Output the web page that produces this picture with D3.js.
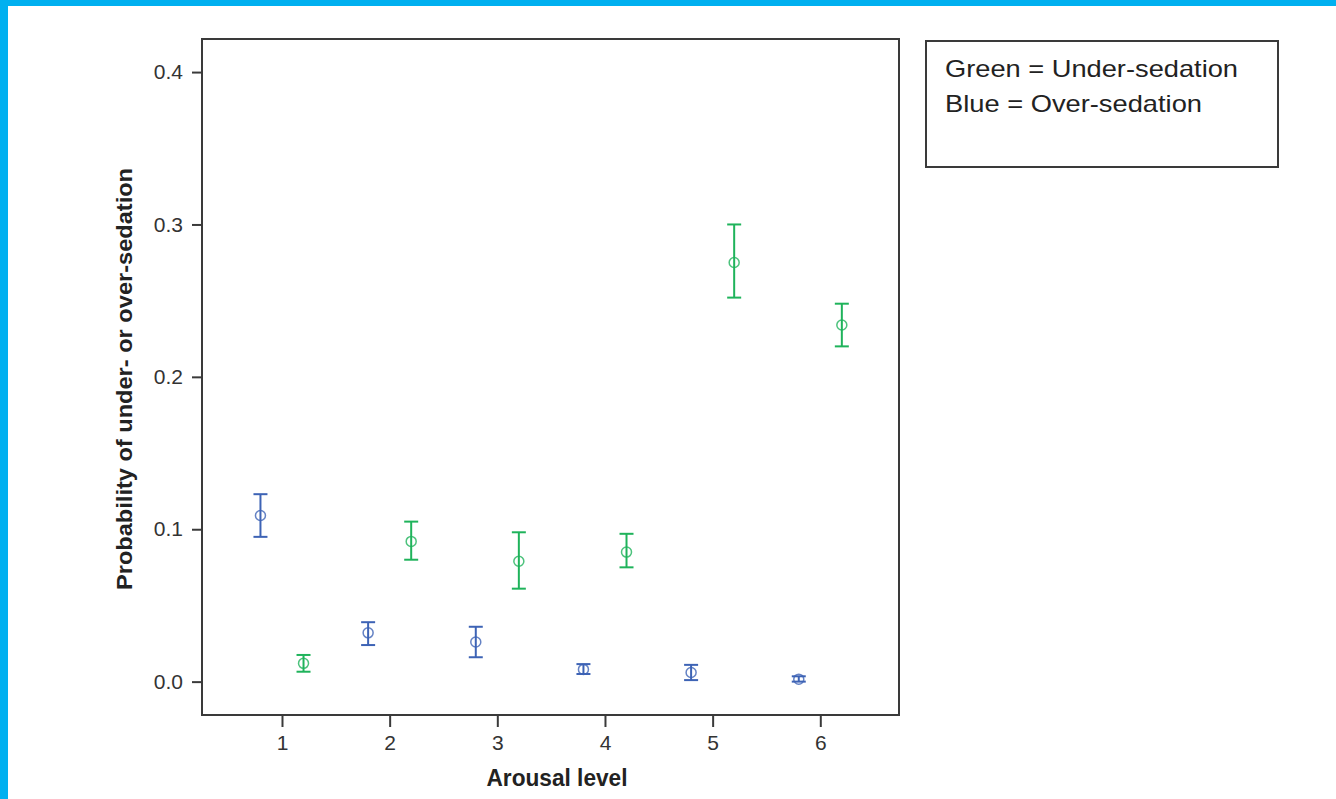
<!DOCTYPE html>
<html>
<head>
<meta charset="utf-8">
<script src="https://cdn.jsdelivr.net/npm/d3@7"></script>
<style>
  html, body { margin: 0; padding: 0; background: #fff; }
  svg { display: block; font-family: "Liberation Sans", Arial, Helvetica, sans-serif; }
</style>
</head>
<body>
<svg id="chart" width="1336" height="799"></svg>
<script>
// Arousal level positions (offset left for over-sedation, right for under-sedation)
const overX  = [0.8, 1.8, 2.8, 3.8, 4.8, 5.8];
const overP  = [0.109, 0.032, 0.026, 0.008, 0.006, 0.0016];
const overLo = [0.095, 0.024, 0.016, 0.005, 0.001, 0.0000];
const overHi = [0.123, 0.039, 0.036, 0.0115, 0.011, 0.0035];

const underX  = [1.2, 2.2, 3.2, 4.2, 5.2, 6.2];
const underP  = [0.012, 0.092, 0.079, 0.085, 0.275, 0.234];
const underLo = [0.0065, 0.080, 0.061, 0.075, 0.252, 0.220];
const underHi = [0.0175, 0.105, 0.098, 0.097, 0.300, 0.248];

const xTicks = [1, 2, 3, 4, 5, 6];
const yTicks = [0.0, 0.1, 0.2, 0.3, 0.4];
const legendLines = ["Green = Under-sedation", "Blue = Over-sedation"];

const BLUE = "#3d63b5";
const GREEN = "#1fb35b";

const svg = d3.select("#chart");

// page frame
svg.append("rect").attr("x", 0).attr("y", 0).attr("width", 1336).attr("height", 6).attr("fill", "#00b0f0");
svg.append("rect").attr("x", 0).attr("y", 0).attr("width", 8).attr("height", 799).attr("fill", "#00b0f0");

const plot = { left: 202, top: 39, right: 899, bottom: 715 };

const x = d3.scaleLinear().domain([0.257, 6.731]).range([plot.left, plot.right]);
const y = d3.scaleLinear().domain([-0.0219, 0.4217]).range([plot.bottom, plot.top]);

// plot border
svg.append("rect")
  .attr("x", plot.left).attr("y", plot.top)
  .attr("width", plot.right - plot.left).attr("height", plot.bottom - plot.top)
  .attr("fill", "none").attr("stroke", "#3a3a3a").attr("stroke-width", 2);

// axes
const yAxis = svg.append("g")
  .attr("transform", `translate(${plot.left},0)`)
  .call(d3.axisLeft(y).tickValues(yTicks).tickFormat(d3.format(".1f")).tickSize(10).tickPadding(9));
const xAxis = svg.append("g")
  .attr("transform", `translate(0,${plot.bottom})`)
  .call(d3.axisBottom(x).tickValues(xTicks).tickFormat(d3.format("d")).tickSize(12).tickPadding(8));

[yAxis, xAxis].forEach(g => {
  g.select(".domain").remove();
  g.selectAll(".tick line").attr("stroke", "#3a3a3a").attr("stroke-width", 2);
  g.selectAll(".tick text").attr("fill", "#333").style("font-size", "21px")
    .style("font-family", "'Liberation Sans', Arial, sans-serif");
});

// axis titles
svg.append("text")
  .attr("x", 557).attr("y", 786)
  .attr("text-anchor", "middle")
  .attr("textLength", 141).attr("lengthAdjust", "spacingAndGlyphs")
  .style("font-size", "23px").style("font-weight", "bold").attr("fill", "#222")
  .text("Arousal level");

svg.append("text")
  .attr("transform", "translate(132,379) rotate(-90)")
  .attr("text-anchor", "middle")
  .attr("textLength", 422).attr("lengthAdjust", "spacingAndGlyphs")
  .style("font-size", "22px").style("font-weight", "bold").attr("fill", "#222")
  .text("Probability of under- or over-sedation");

// error bars with open circle markers
function drawSeries(xs, ps, lo, hi, color) {
  const data = xs.map((v, i) => ({ x: v, p: ps[i], lo: lo[i], hi: hi[i] }));
  const g = svg.append("g");
  const cap = 7;
  const item = g.selectAll("g.pt").data(data).join("g").attr("class", "pt");
  item.append("line")
    .attr("x1", d => x(d.x)).attr("x2", d => x(d.x))
    .attr("y1", d => y(d.lo)).attr("y2", d => y(d.hi))
    .attr("stroke", color).attr("stroke-width", 2);
  item.append("line")
    .attr("x1", d => x(d.x) - cap).attr("x2", d => x(d.x) + cap)
    .attr("y1", d => y(d.hi)).attr("y2", d => y(d.hi))
    .attr("stroke", color).attr("stroke-width", 2);
  item.append("line")
    .attr("x1", d => x(d.x) - cap).attr("x2", d => x(d.x) + cap)
    .attr("y1", d => y(d.lo)).attr("y2", d => y(d.lo))
    .attr("stroke", color).attr("stroke-width", 2);
  item.append("circle")
    .attr("cx", d => x(d.x)).attr("cy", d => y(d.p)).attr("r", 5)
    .attr("fill", "none").attr("stroke", color).attr("stroke-width", 1.5).attr("stroke-opacity", 0.8);
}
drawSeries(overX, overP, overLo, overHi, BLUE);
drawSeries(underX, underP, underLo, underHi, GREEN);

// legend box
const legendWidths = [293, 257];
const leg = svg.append("g");
leg.append("rect")
  .attr("x", 926).attr("y", 41).attr("width", 352).attr("height", 126)
  .attr("fill", "#fff").attr("stroke", "#3a3a3a").attr("stroke-width", 2);
leg.selectAll("text").data(legendLines).join("text")
  .attr("x", 945).attr("y", (d, i) => 77 + i * 35)
  .attr("textLength", (d, i) => legendWidths[i]).attr("lengthAdjust", "spacingAndGlyphs")
  .style("font-size", "24px").attr("fill", "#222")
  .text(d => d);
</script>
</body>
</html>
